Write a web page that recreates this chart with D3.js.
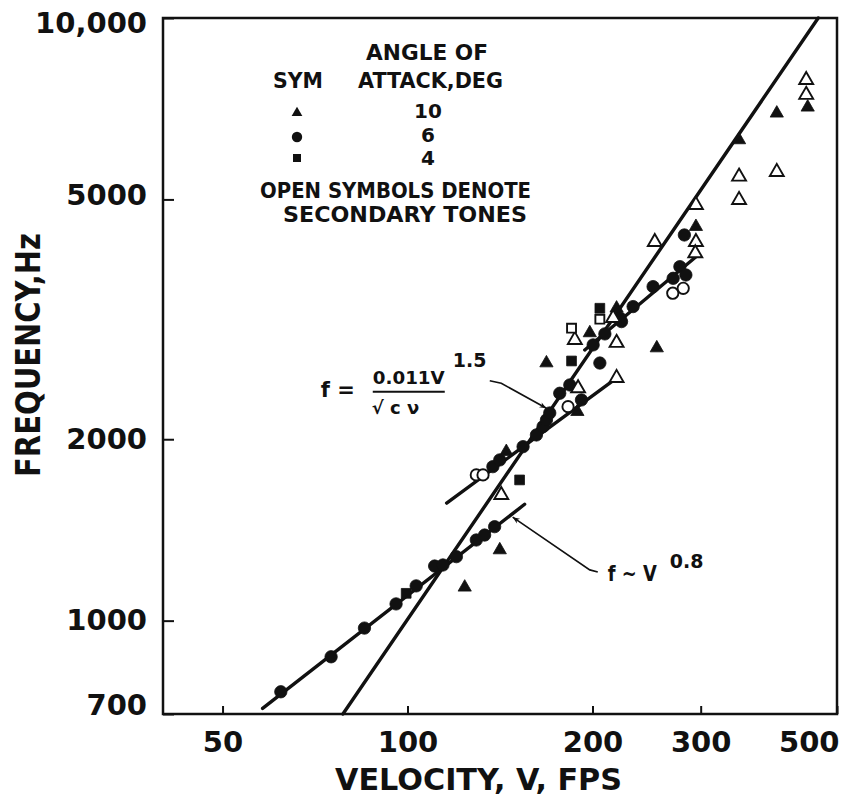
<!DOCTYPE html>
<html><head><meta charset="utf-8">
<script src="https://cdn.jsdelivr.net/npm/d3@7"></script>
<style>
body{margin:0;background:#fff}
text{font-family:"DejaVu Sans",sans-serif;font-weight:bold;fill:#111}
</style>
</head><body>
<svg id="c" width="842" height="796"></svg>
<script>
// ---- data (velocity V in fps, frequency f in Hz) ----
const xTicks = [50, 100, 200, 300, 500];
const xTickLabels = ["50", "100", "200", "300", "500"];
const yTicks = [700, 1000, 2000, 5000, 10000];
const yTickLabels = ["700", "1000", "2000", "5000", "10,000"];

// 10 deg (triangles)
const filledTriangles = [[123.9,1136],[141.3,1310],[144.8,1907],[168.3,2676],[189.0,2222],[198.0,3002],[218.9,3299],[254.5,2834],[294.7,4506],[346.4,6276],[399.0,6949],[448.0,7110]];
const openTriangles = [[142.1,1616],[189.5,2430],[218.9,2528],[187.2,2923],[216.1,3179],[218.9,2890],[252.6,4250],[294.7,4896],[294.7,4250],[294.0,4070],[346.4,5456],[346.4,4990],[399.0,5554],[445.5,7890],[445.5,7455]];
// 6 deg (circles)
const filledCircles = [[62.2,762],[75.1,871],[85.1,972],[95.8,1066],[103.3,1142],[110.7,1232],[114.2,1237],[120.1,1277],[129.4,1361],[133.5,1387],[138.6,1432],[137.7,1801],[141.3,1848],[154.2,1944],[162.1,2033],[166.2,2099],[168.3,2153],[170.4,2211],[176.9,2384],[183.7,2461],[191.9,2324],[205.6,2676],[200.5,2868],[209.5,2991],[221.6,3179],[223.0,3135],[232.9,3320],[251.0,3583],[270.6,3699],[277.5,3867],[283.8,3746],[282.2,4365]];
const openCircles = [[129.4,1745],[132.7,1745],[182.5,2265],[270.2,3494],[281.0,3560]];
// 4 deg (squares)
const filledSquares = [[99.5,1110],[152.2,1712],[184.9,2697],[205.6,3299]];
const openSquares = [[184.9,3057],[205.6,3164]];

// fitted lines
const lineSteep = [[78.5,700],[466,10000]];      // f = 0.011 V^1.5 / sqrt(c nu)
const lineLow = [[58.1,715],[155.1,1560]];        // f ~ V^0.8
const lineUpper = [[115.8,1567],[219.1,2528]];
const lineTop = [[194.3,2813],[295.8,4028]];

// annotation leaders (data coordinates)
const formulaArrow = [[136.1,2501],[142.1,2477],[168.3,2251]];
const powerArrow = [[204.0,1204],[198.0,1214],[148.3,1485]];

const legendRows = [["tri","10"],["circ","6"],["sq","4"]];

// ---- drawing ----
const svg = d3.select("#c");
const x = d3.scaleLog().domain([40, 500]).range([163, 837]);
const y = d3.scaleLog().domain([700, 10000]).range([714, 18]);

const defs = svg.append("defs");
defs.append("marker").attr("id","ah").attr("viewBox","0 0 10 10").attr("refX",10).attr("refY",5)
  .attr("markerWidth",9).attr("markerHeight",7).attr("orient","auto-start-reverse")
  .attr("markerUnits","userSpaceOnUse")
  .append("path").attr("d","M0,1 L10,5 L0,9 L3,5 Z").attr("fill","#111");

// frame
svg.append("rect").attr("x",x(40)).attr("y",y(10000)).attr("width",x(500)-x(40)).attr("height",y(700)-y(10000))
  .attr("fill","none").attr("stroke","#111").attr("stroke-width",2.5);

// axes
const xAxis = d3.axisBottom(x).tickValues(xTicks).tickFormat((d,i)=>xTickLabels[i]).tickSizeInner(-8).tickSizeOuter(0).tickPadding(17);
const gx = svg.append("g").attr("transform",`translate(0,${y(700)})`).call(xAxis);
gx.select(".domain").remove();
gx.selectAll(".tick line").attr("stroke","#111").attr("stroke-width",2);
gx.selectAll(".tick text").attr("font-size",29).attr("font-family","DejaVu Sans").attr("font-weight","bold").attr("fill","#111")
  .attr("text-anchor",d=>d===500?"end":"middle").attr("dx",d=>d===500?"2":"0");

const yAxis = d3.axisLeft(y).tickValues(yTicks).tickFormat((d,i)=>yTickLabels[i]).tickSizeInner(-11).tickSizeOuter(0).tickPadding(16);
const gy = svg.append("g").attr("transform",`translate(${x(40)},0)`).call(yAxis);
gy.select(".domain").remove();
gy.selectAll(".tick line").attr("stroke","#111").attr("stroke-width",2);
gy.selectAll(".tick text").attr("font-size",29).attr("font-family","DejaVu Sans").attr("font-weight","bold").attr("fill","#111")
  .attr("y",d=>d===700?-9:(d===10000?5:(d===5000?-4:0)));

// axis titles
svg.append("text").attr("x",478.5).attr("y",790).attr("text-anchor","middle").attr("font-size",31)
  .attr("textLength",287).attr("lengthAdjust","spacingAndGlyphs").text("VELOCITY, V, FPS");
svg.append("text").attr("transform","translate(40,355) rotate(-90)").attr("text-anchor","middle").attr("font-size",33)
  .attr("textLength",244).attr("lengthAdjust","spacingAndGlyphs").text("FREQUENCY,Hz");

// lines
const ln = d3.line().x(d=>x(d[0])).y(d=>y(d[1]));
[lineSteep,lineLow,lineUpper,lineTop].forEach(L=>{
  svg.append("path").attr("d",ln(L)).attr("fill","none").attr("stroke","#111").attr("stroke-width",3.4).attr("stroke-linecap","round");
});

// points
const symT = d3.symbol().type(d3.symbolTriangle).size(76);
const symC = d3.symbol().type(d3.symbolCircle).size(120);
const symS = d3.symbol().type(d3.symbolSquare).size(95);
const symTo = d3.symbol().type(d3.symbolTriangle).size(84);
const symCo = d3.symbol().type(d3.symbolCircle).size(100);
const symSo = d3.symbol().type(d3.symbolSquare).size(80);
function pts(data, sym, filled){
  svg.append("g").selectAll("path").data(data).join("path")
    .attr("d",sym()).attr("transform",d=>`translate(${x(d[0])},${y(d[1])})`)
    .attr("fill",filled?"#111":"#fff").attr("stroke","#111").attr("stroke-width",filled?0.8:1.9);
}
pts(filledCircles,symC,true);
pts(filledTriangles,symT,true);
pts(filledSquares,symS,true);
pts(openCircles,symCo,false);
pts(openTriangles,symTo,false);
pts(openSquares,symSo,false);

// formula annotation
const fa = formulaArrow.map(d=>[x(d[0]),y(d[1])]);
svg.append("path").attr("d",d3.line()(fa)).attr("fill","none").attr("stroke","#111").attr("stroke-width",1.6).attr("marker-end","url(#ah)");
const fx = fa[0][0], fy = fa[0][1];
svg.append("text").attr("x",fx-135).attr("y",fy+16).attr("text-anchor","end").attr("font-size",21).text("f =");
svg.append("text").attr("x",fx-117).attr("y",fy+3).attr("font-size",18).attr("textLength",72).attr("lengthAdjust","spacingAndGlyphs").text("0.011V");
svg.append("line").attr("x1",fx-117).attr("x2",fx-45).attr("y1",fy+11).attr("y2",fy+11).attr("stroke","#111").attr("stroke-width",2);
svg.append("text").attr("x",fx-118).attr("y",fy+33).attr("font-size",18).text("√ c ν");
svg.append("text").attr("x",fx-37).attr("y",fy-14).attr("font-size",19).text("1.5");

// power law annotation
const pa = powerArrow.map(d=>[x(d[0]),y(d[1])]);
svg.append("path").attr("d",d3.line()(pa)).attr("fill","none").attr("stroke","#111").attr("stroke-width",1.6).attr("marker-end","url(#ah)");
const px = pa[0][0], py = pa[0][1];
svg.append("text").attr("x",px+10).attr("y",py+9).attr("font-size",21).attr("textLength",49).attr("lengthAdjust","spacingAndGlyphs").text("f ~ V");
svg.append("text").attr("x",px+72).attr("y",py-4).attr("font-size",19).text("0.8");

// legend
svg.append("text").attr("x",427).attr("y",60).attr("text-anchor","middle").attr("font-size",22).attr("textLength",122).attr("lengthAdjust","spacingAndGlyphs").text("ANGLE OF");
svg.append("text").attr("x",273).attr("y",88).attr("font-size",22).attr("textLength",50).attr("lengthAdjust","spacingAndGlyphs").text("SYM");
svg.append("text").attr("x",358).attr("y",88).attr("font-size",22).attr("textLength",145).attr("lengthAdjust","spacingAndGlyphs").text("ATTACK,DEG");
const legSym = {tri:d3.symbol().type(d3.symbolTriangle).size(50), circ:d3.symbol().type(d3.symbolCircle).size(85), sq:d3.symbol().type(d3.symbolSquare).size(64)};
const legY = [113,137,158];
const legBase = [118,142,165];
legendRows.forEach((r,i)=>{
  svg.append("path").attr("d",legSym[r[0]]()).attr("transform",`translate(297,${legY[i]})`).attr("fill","#111");
  svg.append("text").attr("x",428).attr("y",legBase[i]).attr("text-anchor","middle").attr("font-size",20).text(r[1]);
});
svg.append("text").attr("x",260).attr("y",198).attr("font-size",22).attr("textLength",271).attr("lengthAdjust","spacingAndGlyphs").text("OPEN SYMBOLS DENOTE");
svg.append("text").attr("x",283).attr("y",222).attr("font-size",22).attr("textLength",244).attr("lengthAdjust","spacingAndGlyphs").text("SECONDARY TONES");
</script>
</body></html>
